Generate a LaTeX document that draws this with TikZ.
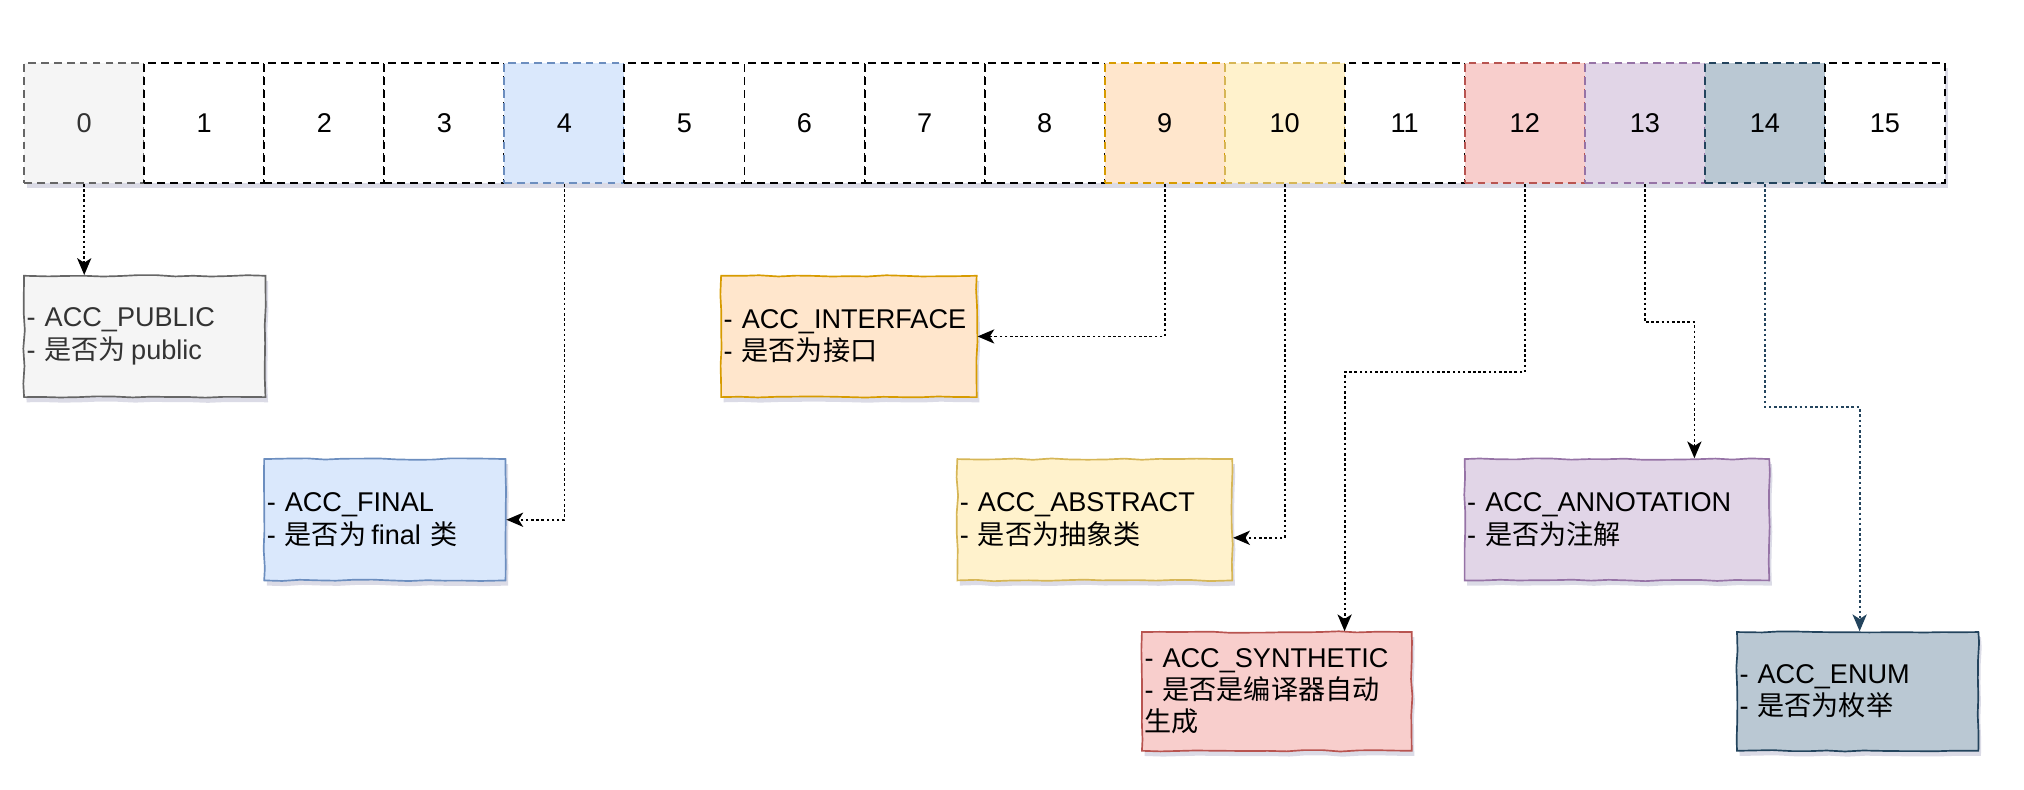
\documentclass[tikz,border=0pt]{standalone}
\usepackage{fontspec}
\setmainfont{Liberation Sans}
\newfontfamily\cjk{Noto Sans CJK SC}
\usetikzlibrary{arrows.meta,shadows,decorations.pathmorphing,calc}
\definecolor{grayf}{HTML}{F5F5F5}\definecolor{grayd}{HTML}{666666}
\definecolor{bluef}{HTML}{DAE8FC}\definecolor{blued}{HTML}{6C8EBF}
\definecolor{orangef}{HTML}{FFE6CC}\definecolor{oranged}{HTML}{D79B00}
\definecolor{yellowf}{HTML}{FFF2CC}\definecolor{yellowd}{HTML}{D6B656}
\definecolor{redf}{HTML}{F8CECC}\definecolor{redd}{HTML}{B85450}
\definecolor{purplef}{HTML}{E1D5E7}\definecolor{purpled}{HTML}{9673A6}
\definecolor{slatef}{HTML}{BAC8D3}\definecolor{slated}{HTML}{23445D}
\definecolor{darktext}{HTML}{333333}
\definecolor{shadowc}{RGB}{90,90,140}
\pgfmathsetseed{7}
\begin{document}
\begin{tikzpicture}[x=1pt,y=1pt,
  sketch/.style={decorate,decoration={random steps,segment length=14pt,amplitude=0.6pt}},
  shad/.style={drop shadow={shadow xshift=2pt,shadow yshift=-4pt,opacity=0.22,fill=shadowc}},
  txt/.style={font=\fontsize{21}{25}\selectfont},
  cell/.style={draw, dash pattern=on 6pt off 4pt, line width=1.5pt, minimum width=93pt,
    minimum height=93pt, inner sep=0pt, anchor=north west, txt, shad},
  box/.style={draw, line width=1.3pt, inner xsep=2pt, inner ysep=0pt, anchor=north west,
    align=left, txt, shad, sketch},
  conn/.style={draw=black, line width=1.4pt, dash pattern=on 2pt off 2pt,
    -{Stealth[length=13pt,width=11pt,inset=3.5pt]}}
]
\useasboundingbox (0,0) rectangle (1568,-612);

% bit cells
\foreach \i/\f/\d/\t in {0/grayf/grayd/darktext,1/white/black/black,2/white/black/black,
  3/white/black/black,4/bluef/blued/black,5/white/black/black,6/white/black/black,
  7/white/black/black,8/white/black/black,9/orangef/oranged/black,10/yellowf/yellowd/black,
  11/white/black/black,12/redf/redd/black,13/purplef/purpled/black,14/slatef/slated/black,
  15/white/black/black}
  \node[cell, fill=\f, draw=\d, text=\t] (c\i) at ({18+93*\i},-48) {\i};

% description boxes
\node[box, fill=grayf, draw=grayd, text=darktext, minimum width=187pt, text width=183pt, minimum height=94pt]
  (pub) at (18,-213) {- ACC\_PUBLIC\\- {\cjk 是否为}\hspace{4pt}public};
\node[box, fill=bluef, draw=blued, minimum width=187pt, text width=183pt, minimum height=94pt]
  (fin) at (204,-355) {- ACC\_FINAL\\- {\cjk 是否为}\hspace{4pt}final {\cjk 类}};
\node[box, fill=orangef, draw=oranged, minimum width=198pt, text width=194pt, minimum height=94pt]
  (intf) at (558,-213) {- ACC\_INTERFACE\\- {\cjk 是否为接口}};
\node[box, fill=yellowf, draw=yellowd, minimum width=213pt, text width=209pt, minimum height=94pt]
  (abst) at (741,-355) {- ACC\_ABSTRACT\\- {\cjk 是否为抽象类}};
\node[box, fill=redf, draw=redd, minimum width=209pt, text width=205pt, minimum height=92pt]
  (syn) at (884,-489) {- ACC\_SYNTHETIC\\- {\cjk 是否是编译器自动}\\{\cjk 生成}};
\node[box, fill=purplef, draw=purpled, minimum width=236pt, text width=232pt, minimum height=94pt]
  (ann) at (1134,-355) {- ACC\_ANNOTATION\\- {\cjk 是否为注解}};
\node[box, fill=slatef, draw=slated, minimum width=187pt, text width=183pt, minimum height=92pt]
  (enm) at (1345,-489) {- ACC\_ENUM\\- {\cjk 是否为枚举}};

% connectors
\coordinate (pubin) at (c0.south |- pub.north);
\coordinate (absin) at ($(abst.east)+(0,-14)$);
\coordinate (synin) at ($(syn.north)+(52.5,0)$);
\coordinate (annin) at ($(ann.north)+(60,0)$);
\coordinate (enmin) at ($(enm.north)+(1.5,0)$);
\draw[conn] (c0.south) -- (pubin);
\draw[conn] (c4.south) |- (fin.east);
\draw[conn] (c9.south) |- (intf.east);
\draw[conn] (c10.south) |- (absin);
\draw[conn] (c12.south) -- ++(0,-146) -| (synin);
\draw[conn] (c13.south) -- ++(0,-107) -| (annin);
\draw[conn, draw=slated, -{Stealth[length=13pt,width=11pt,inset=3.5pt,fill=slated]}] (c14.south) -- ++(0,-173) -| (enmin);
\end{tikzpicture}
\end{document}
